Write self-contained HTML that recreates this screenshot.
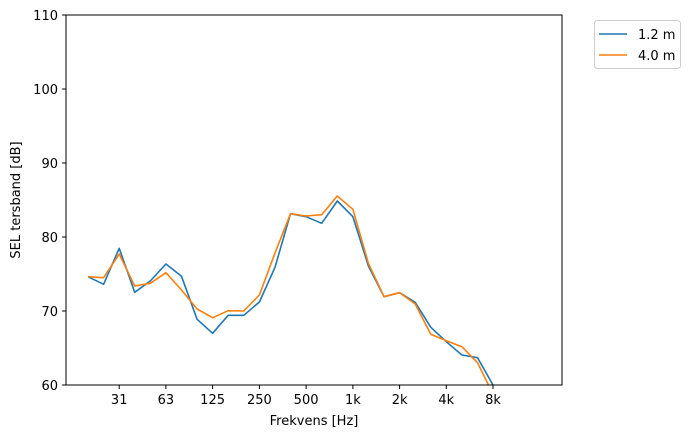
<!DOCTYPE html>
<html><head><style>body{margin:0;background:#fff}</style></head><body>
<svg width="693" height="438" xmlns="http://www.w3.org/2000/svg" font-family="DejaVu Sans, Liberation Sans, sans-serif" font-size="13">
<defs><clipPath id="c"><rect x="66" y="15" width="496" height="370"/></clipPath></defs>
<rect width="693" height="438" fill="#fff"/>
<g clip-path="url(#c)" fill="none" stroke-width="1.6" stroke-linejoin="round">
<polyline stroke="#1f77b4" points="88,276.7 103.6,284.3 119.2,248.3 134.7,292.3 150.3,281 165.9,264 181.5,276.3 197.1,319.3 212.6,333.3 228.2,315.3 243.8,315.3 259.4,302 275,267.3 290.5,213.7 306.1,216.7 321.7,223.3 337.3,201 352.9,216.7 368.4,266 384,296.7 399.6,292.7 415.2,302.3 430.8,327.3 446.3,341.7 461.9,355 477.5,357.7 493,385"/>
<polyline stroke="#ff7f0e" points="88,276.7 103.6,277.7 119.2,254 134.7,286 150.3,283.3 165.9,272.7 181.5,290 197.1,309 212.6,317.7 228.2,310.7 243.8,311 259.4,295 275,253 290.5,213.7 306.1,216 321.7,214.7 337.3,196 352.9,209.3 368.4,263.3 384,296.7 399.6,292.7 415.2,304 430.8,334.3 446.3,340.7 461.9,346.7 477.5,362.7 493,394"/>
</g>
<rect x="66" y="15" width="496" height="370" fill="none" stroke="#000" stroke-width="1"/>
<g stroke="#000">
<line x1="119.2" y1="385" x2="119.2" y2="389"/><line x1="165.9" y1="385" x2="165.9" y2="389"/><line x1="212.6" y1="385" x2="212.6" y2="389"/><line x1="259.4" y1="385" x2="259.4" y2="389"/><line x1="306.1" y1="385" x2="306.1" y2="389"/><line x1="352.9" y1="385" x2="352.9" y2="389"/><line x1="399.6" y1="385" x2="399.6" y2="389"/><line x1="446.3" y1="385" x2="446.3" y2="389"/><line x1="493" y1="385" x2="493" y2="389"/>
<line x1="62" y1="15" x2="66" y2="15"/><line x1="62" y1="89" x2="66" y2="89"/><line x1="62" y1="163" x2="66" y2="163"/><line x1="62" y1="237" x2="66" y2="237"/><line x1="62" y1="311" x2="66" y2="311"/><line x1="62" y1="385" x2="66" y2="385"/>
</g>
<g text-anchor="middle" fill="#000">
<text x="119.2" y="404">31</text><text x="165.9" y="404">63</text><text x="212.6" y="404">125</text><text x="259.4" y="404">250</text><text x="306.1" y="404">500</text><text x="352.9" y="404">1k</text><text x="399.6" y="404">2k</text><text x="446.3" y="404">4k</text><text x="493" y="404">8k</text>
<text x="314" y="425">Frekvens [Hz]</text>
</g>
<g text-anchor="end" fill="#000">
<text x="58" y="20">110</text><text x="58" y="94">100</text><text x="58" y="168">90</text><text x="58" y="242">80</text><text x="58" y="316">70</text><text x="58" y="390">60</text>
</g>
<text transform="translate(20,200) rotate(-90)" text-anchor="middle">SEL tersband [dB]</text>
<rect x="594.5" y="20.5" width="86" height="48" rx="3" fill="#fff" stroke="#ccc"/>
<line x1="599" y1="34" x2="627" y2="34" stroke="#1f77b4" stroke-width="1.6"/>
<text x="638" y="39">1.2 m</text>
<line x1="599" y1="55" x2="627" y2="55" stroke="#ff7f0e" stroke-width="1.6"/>
<text x="638" y="60">4.0 m</text>
</svg>
</body></html>
